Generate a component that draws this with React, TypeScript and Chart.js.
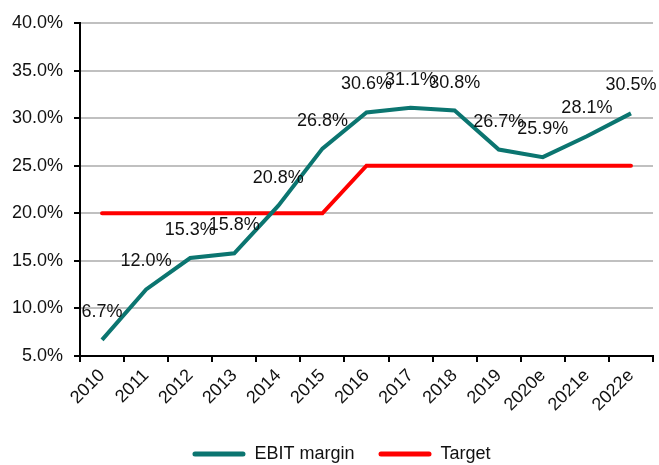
import React, { useEffect, useRef } from "react";
import { Chart, registerables } from "chart.js";

Chart.register(...registerables);

const categories = ["2010", "2011", "2012", "2013", "2014", "2015", "2016", "2017", "2018", "2019", "2020e", "2021e", "2022e"];
const ebitMargin = [6.7, 12.0, 15.3, 15.8, 20.8, 26.8, 30.6, 31.1, 30.8, 26.7, 25.9, 28.1, 30.5];
const target = [20, 20, 20, 20, 20, 20, 25, 25, 25, 25, 25, 25, 25];
const yTicks = { min: 5, max: 40, step: 5 };

const FONT = "'Liberation Sans', Arial, sans-serif";
const TEAL = "#0B7570";
const RED = "#FF0000";

const labelPlugin = {
  id: "ebitLabels",
  afterLayout(chart: any) {
    if (chart.legend) {
      chart.legend.left += 15;
      chart.legend.right += 15;
    }
  },
  afterDatasetsDraw(chart: any) {
    const ctx = chart.ctx;
    const meta = chart.getDatasetMeta(0);
    ctx.save();
    ctx.font = `18px ${FONT}`;
    ctx.fillStyle = "#111";
    ctx.textAlign = "center";
    ctx.textBaseline = "middle";
    meta.data.forEach((pt: any, i: number) => {
      ctx.fillText(ebitMargin[i].toFixed(1) + "%", pt.x, pt.y - 28);
    });
    ctx.restore();
  },
};

export default function App() {
  const ref = useRef<HTMLCanvasElement>(null);
  useEffect(() => {
    const chart = new Chart(ref.current!, {
      type: "line",
      data: {
        labels: categories,
        datasets: [
          {
            label: "EBIT margin",
            data: ebitMargin,
            borderColor: TEAL,
            backgroundColor: TEAL,
            borderWidth: 4,
            pointRadius: 0,
            tension: 0,
          },
          {
            label: "Target",
            data: target,
            borderColor: RED,
            backgroundColor: RED,
            borderWidth: 4,
            pointRadius: 0,
            tension: 0,
            borderCapStyle: "round",
          },
        ],
      },
      options: {
        animation: false,
        responsive: false,
        maintainAspectRatio: false,
        layout: { padding: { top: 23, right: 6, left: 0, bottom: -8 } },
        plugins: {
          tooltip: { enabled: false },
          legend: {
            position: "bottom",
            labels: {
              font: { family: FONT, size: 18 },
              color: "#111",
              boxWidth: 53,
              boxHeight: 5,
              padding: 24,
              useBorderRadius: true,
              borderRadius: 2.5,
              generateLabels: (c: any) =>
                c.data.datasets.map((ds: any, i: number) => ({
                  text: ds.label,
                  fillStyle: ds.borderColor,
                  strokeStyle: ds.borderColor,
                  lineWidth: 0,
                  hidden: false,
                  datasetIndex: i,
                  borderRadius: 2.5,
                  fontColor: "#111",
                })),
            },
          },
        },
        scales: {
          x: {
            type: "category",
            offset: true,
            grid: {
              offset: true,
              drawOnChartArea: false,
              drawTicks: true,
              tickLength: 6,
              color: "#000",
              lineWidth: 2,
            },
            border: { display: true, color: "#000", width: 2 },
            ticks: {
              font: { family: FONT, size: 18 },
              color: "#111",
              minRotation: 45,
              maxRotation: 45,
              autoSkip: false,
            },
            afterFit: (s: any) => {
              s.height = 65;
            },
          },
          y: {
            min: yTicks.min,
            max: yTicks.max,
            ticks: {
              stepSize: yTicks.step,
              font: { family: FONT, size: 18 },
              color: "#111",
              padding: 11,
              callback: (v: any) => Number(v).toFixed(1) + "%",
            },
            grid: {
              color: "#C0C0C0",
              lineWidth: 2,
              tickColor: "#000",
              tickLength: 6,
            },
            border: { display: true, color: "#000", width: 2 },
            afterFit: (s: any) => {
              s.width = 80;
            },
          },
        },
      },
      plugins: [labelPlugin],
    } as any);
    return () => chart.destroy();
  }, []);
  return (
    <div style={{ position: "fixed", left: 0, top: 0, width: 659, height: 465, background: "#fff" }}>
      <canvas ref={ref} width={659} height={465} style={{ width: 659, height: 465 }} />
    </div>
  );
}
